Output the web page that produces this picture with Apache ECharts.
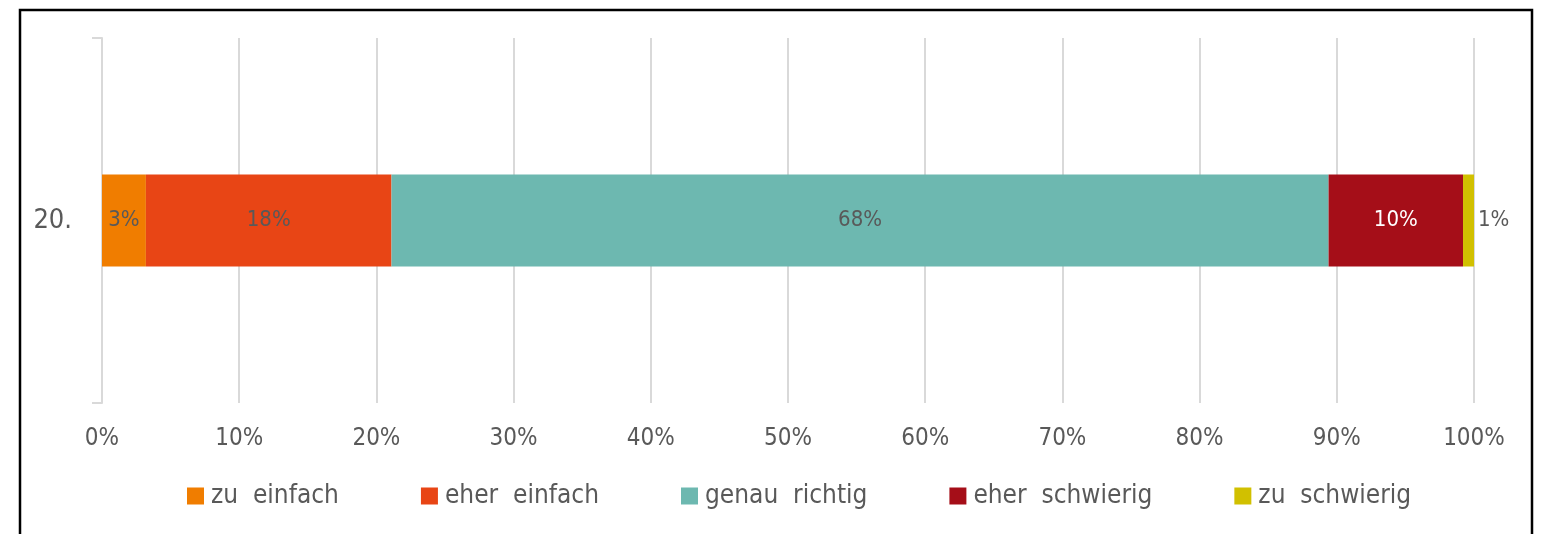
<!DOCTYPE html>
<html><head><meta charset="utf-8">
<script src="https://cdn.jsdelivr.net/npm/echarts@6/dist/echarts.min.js"></script>
<style>html,body{margin:0;padding:0;background:#fff}#c{width:1548px;height:534px}</style>
</head><body><div id="c"></div>
<script>
const categories = ['20.'];
const seriesNames = ['zu  einfach', 'eher  einfach', 'genau  richtig', 'eher  schwierig', 'zu  schwierig'];
const seriesValues = [[3.2], [17.9], [68.3], [9.8], [0.8]];
const colors = ['#F07D00', '#E84515', '#6DB8B0', '#A50E18', '#D1C000'];
const labelColors = ['#595959', '#595959', '#595959', '#ffffff', '#595959'];
const xTicks = [0, 10, 20, 30, 40, 50, 60, 70, 80, 90, 100];

const FONT = '"DejaVu Sans Condensed", "Liberation Sans Narrow", sans-serif';
const chart = echarts.init(document.getElementById('c'));
chart.setOption({
  animation: false,
  textStyle: { fontFamily: FONT },
  graphic: [{
    type: 'rect', shape: { x: 20, y: 10, width: 1512, height: 600 },
    style: { fill: 'none', stroke: '#000', lineWidth: 2.5 }
  }],
  legend: {
    top: 483, left: 187, itemWidth: 17, itemHeight: 17, itemGap: 82,
    icon: 'rect', padding: 0,
    textStyle: { fontSize: 26, color: '#595959', fontFamily: FONT, padding: [0, 0, 0, 2] },
    data: seriesNames
  },
  grid: { left: 102, right: 74, top: 38, bottom: 131 },
  xAxis: {
    type: 'value', min: 0, max: 100, interval: 10,
    axisLine: { show: false }, axisTick: { show: false },
    splitLine: { lineStyle: { color: '#d9d9d9', width: 2 } },
    axisLabel: {
      margin: 24, fontSize: 24, color: '#595959', fontFamily: FONT,
      formatter: v => xTicks.indexOf(v) >= 0 ? v + '%' : ''
    }
  },
  yAxis: {
    type: 'category', data: categories,
    axisLine: { lineStyle: { color: '#d9d9d9', width: 2 } },
    axisTick: { show: true, length: 10, lineStyle: { color: '#d9d9d9', width: 2 } },
    axisLabel: { margin: 30, fontSize: 27, color: '#595959', fontFamily: FONT }
  },
  series: seriesNames.map((n, i) => ({
    name: n, type: 'bar', stack: 'total', barWidth: 92,
    data: seriesValues[i],
    itemStyle: { color: colors[i] },
    label: {
      show: true, position: i === 4 ? 'right' : 'inside', distance: 4,
      color: labelColors[i], fontSize: 22, fontFamily: FONT,
      formatter: p => Math.round(p.value) + '%'
    }
  }))
});
</script></body></html>
